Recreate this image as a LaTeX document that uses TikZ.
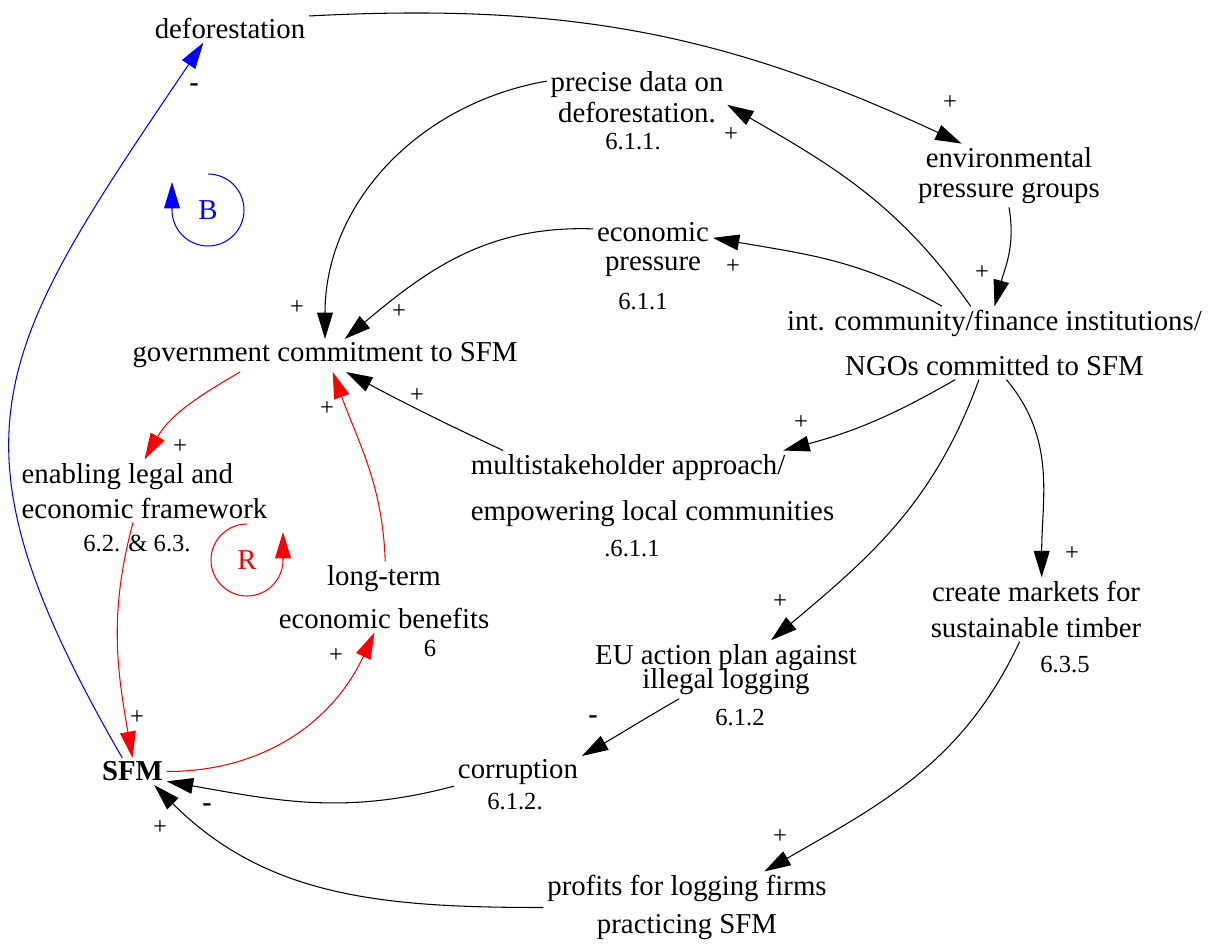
\documentclass[tikz,border=0pt]{standalone}
\usepackage{fontspec}
\setmainfont{Liberation Serif}
\usetikzlibrary{arrows.meta}

\tikzset{
  var/.style={inner sep=2pt, font=\fontsize{16.4}{19}\selectfont, align=center},
  secno/.style={inner sep=0pt, font=\fontsize{14}{16}\selectfont},
  sign/.style={inner sep=0pt, font=\fontsize{14}{16}\selectfont},
  link/.style={line width=0.6pt, -{Triangle[length=15pt,width=9pt]}},
}

\begin{document}
\begin{tikzpicture}[x=0.02cm,y=-0.02cm]
\useasboundingbox (0,0) rectangle (1210,943);

% variables
\node[var] (defor) at (230,28.5) {deforestation};
\node[var] (precise) at (637,97) {precise data on\\[-1.4pt]deforestation.};
\node[var] (envir) at (1009,175.5) {environmental\\[-2pt]pressure groups};
\node[var] (econ) at (653,249.5) {economic\\[-2pt]pressure};
\node[var] (gov) at (325,355.5) {government commitment to SFM};
\node[var] (int) at (994.5,343) {int. community/finance institutions/\\[6.6pt]NGOs committed to SFM};
\node[var, align=left] (multi) at (652.5,490.5) {multistakeholder approach/\\[7.2pt]empowering local communities};
\node[var, align=left] (enab) at (144.5,491) {enabling legal and\\[1pt]economic framework};
\node[var] (long) at (384,597) {long-term\\[5.5pt]economic benefits};
\node[var] (mark) at (1036,609.5) {create markets for\\[1.5pt]sustainable timber};
\node[var] (euap) at (726,669.5) {EU action plan against\\[-5pt]illegal logging};
\node[var] (corr) at (518,772.5) {corruption};
\node[var, font=\fontsize{16.4}{19}\selectfont\bfseries] (sfm) at (132.5,771.5) {SFM};
\node[var] (profit) at (687,907.5) {profits for logging firms\\[2.6pt]practicing SFM};

% section numbers
\node[secno] (s-precise) at (633,142) {6.1.1.};
\node[secno] (s-econ) at (643,302) {6.1.1};
\node[secno] (s-multi) at (632,549) {.6.1.1};
\node[secno] (s-enab) at (137,543) {6.2. \& 6.3.};
\node[secno] (s-long) at (430,648) {6};
\node[secno] (s-mark) at (1065,665) {6.3.5};
\node[secno] (s-euap) at (740,718) {6.1.2};
\node[secno] (s-corr) at (515,802) {6.1.2.};

% links
\draw[link] (defor.9) to[out=3,in=155] (envir.146);
\draw[link] (int.123) to[out=125,in=-30] (precise.-5);
\draw[link] (precise.170) to[out=190,in=90] (gov.90);
\draw[link] (envir.south) to[out=-80,in=75] (int.90);
\draw[link] (int.145) to[out=150,in=-10] (econ.11);
\draw[link] (econ.161) to[out=178,in=40] (gov.40);
\draw[link] (multi.165) to[out=155,in=-28] (gov.-38);
\draw[link] (int.-137) to[out=-150,in=15] (multi.17);
\draw[link] (int.-113) to[out=-110,in=40] (euap.33);
\draw[link] (int.-72) to[out=-50,in=90] (mark.80);
\draw[link] (mark.-117) to[out=-115,in=30] (profit.25);
\draw[link] (euap.-148) to[out=-150,in=30] (corr.north east);
\draw[link] (corr.-168) to[out=195,in=-10] (sfm.-16);
\draw[link] (profit.west) to[out=180,in=-45] (sfm.-32);

\draw[link, red] (gov.-169) to[out=-150,in=60] (enab.north);
\draw[link, red] (enab.-110) to[out=-105,in=100] (sfm.north);
\draw[link, red] (sfm.east) to[out=0,in=-115] (long.-105);
\draw[link, red] (long.88) to[out=92,in=-70] (gov.-65);

\draw[link, blue] (sfm.127) to[out=120,in=-124,looseness=1.33] (defor.-152);

% polarities
\foreach \x/\y [count=\i] in {950/103, 731/135, 982/273, 733/267, 297/308, 399/312, 417/396, 327/409,
    180/447, 801/423, 780/602, 1072/554, 780/837, 160/828, 137/718, 336/656}
  \node[sign] (plus\i) at (\x,\y) {+};
\foreach \x/\y [count=\i] in {593/720, 207/808, 194/88}
  \node[sign, font=\fontsize{16}{18}\selectfont\bfseries] (minus\i) at (\x,\y) {-};

% loop markers
\node[var, blue] (loopB) at (208,210) {B};
\draw[link, blue] ([shift={(90:0.72cm)}]loopB.center) arc[start angle=90, end angle=-180, radius=0.72cm] -- ++(0,-28);
\node[var, red] (loopR) at (247,560) {R};
\draw[link, red] ([shift={(90:0.72cm)}]loopR.center) arc[start angle=90, end angle=360, radius=0.72cm] -- ++(0,-28);
\end{tikzpicture}
\end{document}
